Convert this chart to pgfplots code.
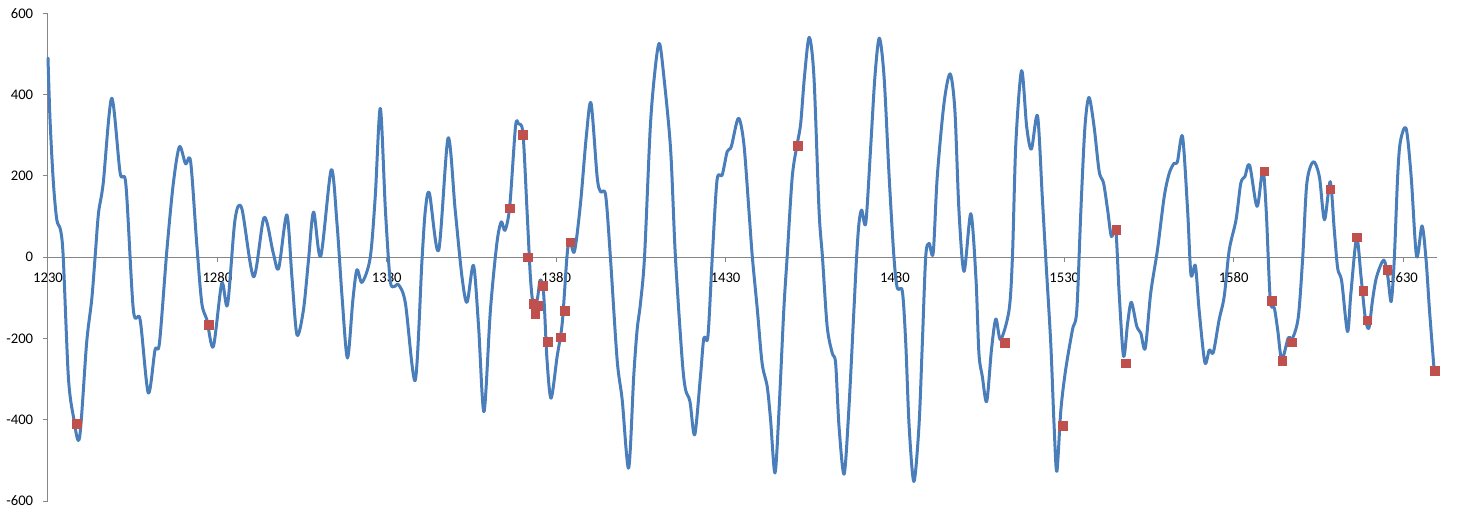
\documentclass[border=0pt]{standalone}
\usepackage{fontspec}
\setmainfont{Carlito}
\usepackage{pgfplots}
\pgfplotsset{compat=1.18}
\definecolor{lineblue}{HTML}{4A7EBB}
\definecolor{markred}{HTML}{C0504D}
\definecolor{axgray}{HTML}{868686}
\begin{document}
\fontsize{11}{13}\selectfont
\begin{tikzpicture}
\useasboundingbox (-36pt,-9.75pt) rectangle (1058.25pt,375.8pt);
\begin{axis}[
  at={(0,0)}, anchor=south west,
  scale only axis, width=1041.75pt, height=365.8pt,
  xmin=1230, xmax=1640, ymin=-600, ymax=600,
  axis x line=middle, axis y line=left,
  axis line style={axgray, line width=0.75pt, -},
  xtick={1230,1280,1330,1380,1430,1480,1530,1580,1630},
  xticklabels={1230,1280,1330,1380,1430,1480,1530,1580,1630},
  ytick={-600,-400,-200,0,200,400,600},
  yticklabels={-600,-400,-200,0,200,400,600},
  tick align=outside, major tick length=3.75pt,
  tick style={axgray, line width=0.75pt},
  hide obscured x ticks=false, hide obscured y ticks=false,
  ticklabel style={font=\fontsize{11}{13}\selectfont, text=black},
  xticklabel style={yshift=-4pt},
  yticklabel style={xshift=-3.5pt},
  clip=false,
]
\addplot[lineblue, line width=2.25pt, smooth, tension=0.5, line join=round, line cap=round] coordinates {
(1230,490) (1230.6,338) (1231.6,182) (1232.6,92) (1233.7,67) (1234.5,0)
(1236,-293) (1237.5,-392) (1239.3,-445) (1241.4,-211) (1242.9,-105) (1243.9,0)
(1244.9,108) (1246.3,182) (1248.8,391) (1251.3,207) (1253.0,178) (1255.2,-130)
(1257.2,-154) (1259.6,-334) (1261.6,-228) (1262.9,-211) (1265.1,18) (1267.0,182)
(1268.8,272) (1270.6,230) (1272.1,235) (1273.9,34) (1275.4,-113) (1276.9,-154)
(1278.8,-220) (1281.3,-64) (1283.0,-117) (1285.2,92) (1287.2,120) (1290.7,-48)
(1293.8,98) (1296.5,10) (1298.1,-27) (1300.5,104) (1302,-48) (1303.5,-191)
(1305.4,-130) (1306.9,-7) (1308.4,111) (1310.5,2) (1313.6,215) (1315.3,84)
(1316.8,-97) (1318.4,-248) (1320,-105) (1321.2,-31) (1322.7,-62) (1325.1,-2)
(1326.6,149) (1328.1,366) (1329.6,116) (1331.0,-56) (1332.2,-72) (1333.5,-68)
(1335.5,-113) (1338.4,-303) (1340.4,-7) (1341.4,116) (1342.6,157) (1345.3,16)
(1348.1,293) (1350.2,116) (1352.2,-48) (1353.7,-111) (1355.6,-20) (1357.1,-170)
(1358.7,-380) (1360.6,-130) (1362.5,34) (1363.8,87) (1364.9,66) (1366.3,125)
(1368,321) (1368.9,328) (1370.2,305) (1371.4,116) (1372.4,-48) (1373.2,-113)
(1374.4,-105) (1375.3,-56) (1376.3,-89) (1377.3,-252) (1378.5,-347) (1380.3,-244)
(1381.8,-162) (1383.2,2) (1384,43) (1385.4,14) (1387.2,133) (1388.9,297)
(1390.3,379) (1392.1,198) (1393.1,161) (1394.6,153) (1396.0,2) (1398,-252)
(1399.5,-351) (1401.4,-519) (1402.9,-293) (1403.9,-179) (1404.9,-113) (1406.1,2)
(1407.8,321) (1409.3,469) (1410.5,526) (1411.8,444) (1413.8,264) (1415.2,2)
(1417.2,-252) (1418.2,-326) (1419.5,-355) (1420.9,-437) (1422.6,-293) (1423.6,-199)
(1424.8,-195) (1426.1,2) (1427.5,190) (1429,202) (1430.5,260) (1431.7,272)
(1433.8,342) (1435.4,280) (1436.9,116) (1437.9,2) (1439.4,-130) (1440.8,-261)
(1442.3,-318) (1443.3,-400) (1444.6,-531) (1445.8,-375) (1447.2,-130) (1448.2,2)
(1449.7,198) (1451.2,280) (1452.2,330) (1453.3,444) (1454.7,541) (1456.1,444)
(1457.6,116) (1458.6,2) (1460.0,-170) (1461.5,-236) (1462.5,-261) (1463.5,-416)
(1465,-534) (1466.4,-375) (1467.9,-130) (1468.7,2) (1469.4,84) (1470.2,116)
(1471.4,84) (1472.8,264) (1474.1,444) (1475.4,539) (1476.8,444) (1478.3,198)
(1479.7,2) (1480.7,-76) (1482.2,-84) (1483.2,-211) (1484.2,-416) (1485.6,-552)
(1487.1,-416) (1488.1,-211) (1489.1,2) (1490.1,34) (1491.3,10) (1492.5,198)
(1494.5,379) (1496.3,451) (1497.7,362) (1498.9,116) (1500.4,-35) (1502.4,107)
(1503.9,-48) (1504.8,-236) (1505.8,-293) (1507.1,-355) (1508.5,-228) (1509.8,-152)
(1511.2,-203) (1513.7,-130) (1514.7,2) (1515.7,280) (1517.4,459) (1518.9,321)
(1520.3,266) (1522.1,348) (1523.5,149) (1524.5,2) (1526,-211) (1527,-416)
(1527.8,-527) (1529,-375) (1530.4,-277) (1532.4,-179) (1533.7,-130) (1534.9,116)
(1536.1,321) (1537.3,393) (1538.8,321) (1540.3,211) (1541.6,182) (1542.8,116)
(1543.9,51) (1545.2,67) (1546.2,-89) (1547.5,-244) (1548.7,-162) (1549.8,-111)
(1551.4,-170) (1552.6,-187) (1553.9,-224) (1555.5,-89) (1557.5,18) (1559.5,149)
(1561,207) (1562.4,231) (1563.4,235) (1564.9,297) (1566.4,116) (1567.4,-43)
(1568.7,-21) (1569.8,-130) (1571.5,-259) (1572.8,-228) (1574,-234) (1575.7,-154)
(1577.2,-97) (1578.7,18) (1580.7,92) (1582.1,182) (1583.3,198) (1584.7,227)
(1586.9,125) (1588.6,215) (1589.6,116) (1590.8,-105) (1592,-125) (1593,-179)
(1594.2,-252) (1596.1,-199) (1597.4,-199) (1599.1,-146) (1600.4,2) (1601.6,182)
(1603.5,235) (1605.3,198) (1606.8,92) (1608.5,186) (1609.7,67) (1610.7,-27)
(1611.9,-60) (1613.6,-183) (1614.6,-89) (1616.3,47) (1617.6,-48) (1618.8,-146)
(1619.9,-175) (1621.0,-105) (1622.2,-48) (1624.3,-7) (1625.5,-48) (1626.5,-109)
(1627.4,-7) (1628.4,198) (1629.2,284) (1630.9,317) (1632.4,198) (1634.0,2)
(1635.6,77) (1636.8,-7) (1637.8,-130) (1639.2,-280)
};
\addplot[only marks, mark=square*, mark size=3.2pt, mark options={fill=markred, draw=markred}] coordinates {
(1238.5,-410) (1277.4,-166) (1366.3,120) (1370.2,301) (1371.6,0) (1373.2,-115)
(1373.9,-139) (1374.6,-120) (1376.1,-70) (1377.5,-208) (1381.3,-197) (1382.5,-132)
(1384.2,37) (1451.4,274) (1512.5,-211) (1529.5,-415) (1545.3,67) (1548.2,-261)
(1589.0,211) (1591.3,-107) (1594.3,-255) (1597.2,-209) (1608.5,167) (1616.4,49)
(1618.2,-83) (1619.5,-155) (1625.3,-31) (1639.3,-280)
};
\end{axis}
\end{tikzpicture}
\end{document}
